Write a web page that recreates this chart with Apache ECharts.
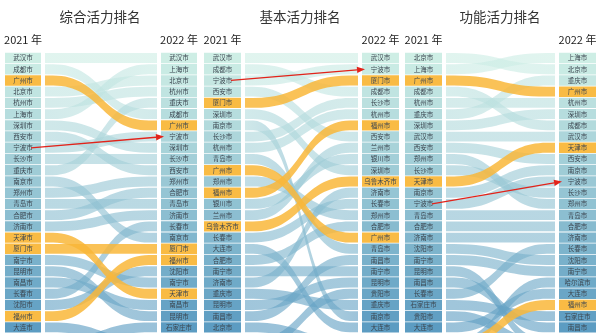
<!DOCTYPE html>
<html><head><meta charset="utf-8">
<script src="https://cdn.jsdelivr.net/npm/echarts@6/dist/echarts.min.js"></script>
<style>html,body{margin:0;padding:0;background:#fff}#c{width:600px;height:333px}</style>
</head><body><div id="c"></div>
<script>
// ---------- DATA ----------
const titles = ['综合活力排名', '基本活力排名', '功能活力排名'];
const yearLeft = '2021 年';
const yearRight = '2022 年';

const zonghe2021 = ['武汉市','成都市','广州市','北京市','杭州市','上海市','深圳市','西安市','宁波市','长沙市','重庆市','南京市','郑州市','青岛市','合肥市','济南市','天津市','厦门市','南宁市','昆明市','南昌市','长春市','沈阳市','福州市','大连市'];
const zonghe2022 = ['武汉市','上海市','北京市','杭州市','重庆市','成都市','广州市','宁波市','深圳市','长沙市','西安市','郑州市','合肥市','青岛市','济南市','长春市','南京市','厦门市','福州市','沈阳市','南宁市','天津市','南昌市','昆明市','石家庄市'];
const zongheHighlight = ['广州市','天津市','厦门市','福州市'];

const jiben2021 = ['武汉市','成都市','宁波市','西安市','厦门市','深圳市','南京市','长沙市','杭州市','青岛市','广州市','郑州市','福州市','银川市','兰州市','乌鲁木齐市','长春市','大连市','合肥市','南宁市','济南市','重庆市','昆明市','南昌市','北京市'];
const jiben2022 = ['武汉市','宁波市','厦门市','成都市','长沙市','杭州市','福州市','西安市','兰州市','银川市','深圳市','乌鲁木齐市','济南市','长春市','郑州市','合肥市','广州市','青岛市','南昌市','南宁市','昆明市','贵阳市','重庆市','南京市','大连市'];
const jibenHighlight = ['厦门市','广州市','福州市','乌鲁木齐市'];

const gongneng2021 = ['北京市','上海市','广州市','成都市','杭州市','重庆市','深圳市','武汉市','西安市','郑州市','长沙市','天津市','南京市','宁波市','青岛市','合肥市','济南市','沈阳市','南宁市','昆明市','南昌市','长春市','石家庄市','贵阳市','大连市'];
const gongneng2022 = ['上海市','北京市','重庆市','广州市','杭州市','深圳市','成都市','武汉市','天津市','西安市','南京市','宁波市','长沙市','郑州市','青岛市','合肥市','济南市','长春市','沈阳市','南宁市','哈尔滨市','大连市','福州市','石家庄市','南昌市'];
const gongnengHighlight = ['广州市','天津市','福州市'];

const arrowCity = '宁波市';

// ---------- LAYOUT ----------
const panels = [
  {l2021: zonghe2021, l2022: zonghe2022, hl: zongheHighlight, flowL: 45, flowR: 157, colW: 36, gap: 4, cx: 100},
  {l2021: jiben2021, l2022: jiben2022, hl: jibenHighlight, flowL: 245, flowR: 358, colW: 37, gap: 4, cx: 300},
  {l2021: gongneng2021, l2022: gongneng2022, hl: gongnengHighlight, flowL: 446, flowR: 555, colW: 37, gap: 4, cx: 500}
];
const GRID_TOP = 52.4, GRID_H = 281.25, N = 25;
const TOP = [206, 238, 229], BOT = [92, 156, 194];
function rankColor(r, a) {
  const t = (r - 1) / (N - 1);
  const c = TOP.map((v, i) => Math.round(v + (BOT[i] - v) * t));
  return 'rgba(' + c.join(',') + ',' + a + ')';
}
const ORANGE = 'rgba(249,183,58,';

const chart = echarts.init(document.getElementById('c'), null, {renderer: 'canvas'});
const grid = [], xAxis = [], yAxis = [], series = [], graphic = [];

panels.forEach((p, k) => {
  grid.push({left: p.flowL, top: GRID_TOP, width: p.flowR - p.flowL, height: GRID_H});
  xAxis.push({type: 'value', gridIndex: k, min: 0, max: 1, show: false});
  yAxis.push({type: 'value', gridIndex: k, min: 0.5, max: N + 0.5, inverse: true, show: false});

  const flows = p.l2021.map((c, i) => {
    const j = p.l2022.indexOf(c);
    return {name: c, value: [i + 1, j < 0 ? N + 1.5 : j + 1, p.hl.includes(c) ? 1 : 0]};
  });
  p.l2022.forEach((c, j) => {
    if (!p.l2021.includes(c)) flows.push({name: c, value: [N + 1.5, j + 1, p.hl.includes(c) ? 1 : 0]});
  });
  const bandRender = function (params, api) {
    const a = api.value(0), b = api.value(1), hl = api.value(2);
    const p0 = api.coord([0, a]), p1 = api.coord([1, b]);
    const rowH = api.size([0, 1])[1];
    const h = rowH * 0.88;
    const s = 8;
    const x0 = p0[0], x1 = p1[0];
    const xa = x0 + s, xb = x1 - s, xm = (xa + xb) / 2;
    const y0 = p0[1], y1 = p1[1];
    const d = 'M' + x0 + ' ' + (y0 - h / 2) + ' L' + xa + ' ' + (y0 - h / 2) +
      ' C' + xm + ' ' + (y0 - h / 2) + ' ' + xm + ' ' + (y1 - h / 2) + ' ' + xb + ' ' + (y1 - h / 2) +
      ' L' + x1 + ' ' + (y1 - h / 2) + ' L' + x1 + ' ' + (y1 + h / 2) + ' L' + xb + ' ' + (y1 + h / 2) +
      ' C' + xm + ' ' + (y1 + h / 2) + ' ' + xm + ' ' + (y0 + h / 2) + ' ' + xa + ' ' + (y0 + h / 2) +
      ' L' + x0 + ' ' + (y0 + h / 2) + ' Z';
    const fill = hl ? ORANGE + '0.85)' : new echarts.graphic.LinearGradient(0, 0, 1, 0, [
      {offset: 0, color: rankColor(Math.min(a, N), 0.62)},
      {offset: 1, color: rankColor(Math.min(b, N), 0.62)}
    ]);
    return {type: 'path', shape: {pathData: d}, style: {fill: fill}};
  };
  series.push({type: 'custom', xAxisIndex: k, yAxisIndex: k, z: 2, clip: false,
    data: flows.filter(f => !f.value[2]), renderItem: bandRender, silent: true});
  series.push({type: 'custom', xAxisIndex: k, yAxisIndex: k, z: 3, clip: false,
    data: flows.filter(f => f.value[2]), renderItem: bandRender, silent: true});

  const cells = [];
  p.l2021.forEach((c, i) => cells.push({name: c, value: [0, i + 1, p.hl.includes(c) ? 1 : 0]}));
  p.l2022.forEach((c, j) => cells.push({name: c, value: [1, j + 1, p.hl.includes(c) ? 1 : 0]}));
  series.push({type: 'custom', xAxisIndex: k, yAxisIndex: k, z: 4, clip: false, silent: true,
    data: cells,
    renderItem: function (params, api) {
      const side = api.value(0), r = api.value(1), hl = api.value(2);
      const pt = api.coord([side, r]);
      const rowH = api.size([0, 1])[1];
      const x = side ? pt[0] + p.gap : pt[0] - p.gap - p.colW;
      const hh = rowH - 0.8;
      return {type: 'group', children: [
        {type: 'rect', shape: {x: x, y: pt[1] - hh / 2, width: p.colW, height: hh},
          style: {fill: hl ? ORANGE + '0.95)' : rankColor(r, 1)}},
        {type: 'text', style: {text: cells[params.dataIndex].name, x: x + p.colW / 2, y: pt[1],
          align: 'center', verticalAlign: 'middle', fill: '#3c4650',
          font: '6.5px "Noto Sans CJK SC"'}}
      ]};
    }});

  const ai = p.l2021.indexOf(arrowCity) + 1, aj = p.l2022.indexOf(arrowCity) + 1;
  series.push({type: 'custom', xAxisIndex: k, yAxisIndex: k, z: 6, clip: false, silent: true,
    data: [[ai, aj]],
    renderItem: function (params, api) {
      const s0 = api.coord([0, api.value(0)]), s1 = api.coord([1, api.value(1)]);
      const xs = s0[0] - p.gap - 10, ys = s0[1];
      const xe = s1[0] + p.gap + 3, ye = s1[1];
      const ang = Math.atan2(ye - ys, xe - xs);
      const L = 8, W = 3.2;
      const bx = xe - L * Math.cos(ang), by = ye - L * Math.sin(ang);
      const nx = -Math.sin(ang) * W, ny = Math.cos(ang) * W;
      return {type: 'group', children: [
        {type: 'line', shape: {x1: xs, y1: ys, x2: bx, y2: by}, style: {stroke: '#e2231a', lineWidth: 1.3}},
        {type: 'polygon', shape: {points: [[xe, ye], [bx + nx, by + ny], [bx - nx, by - ny]]}, style: {fill: '#e2231a'}}
      ]};
    }});

  graphic.push({type: 'text', x: p.cx, y: 17, style: {text: titles[k], fill: '#333', font: '13.5px "Noto Sans CJK SC"', align: 'center', verticalAlign: 'middle'}});
  graphic.push({type: 'text', x: p.flowL - p.gap - p.colW / 2, y: 40, style: {text: yearLeft, fill: '#222', font: '11px "Noto Sans CJK SC"', align: 'center', verticalAlign: 'middle'}});
  graphic.push({type: 'text', x: p.flowR + p.gap + p.colW / 2, y: 40, style: {text: yearRight, fill: '#222', font: '11px "Noto Sans CJK SC"', align: 'center', verticalAlign: 'middle'}});
});

chart.setOption({animation: false, grid, xAxis, yAxis, series, graphic});
</script></body></html>
